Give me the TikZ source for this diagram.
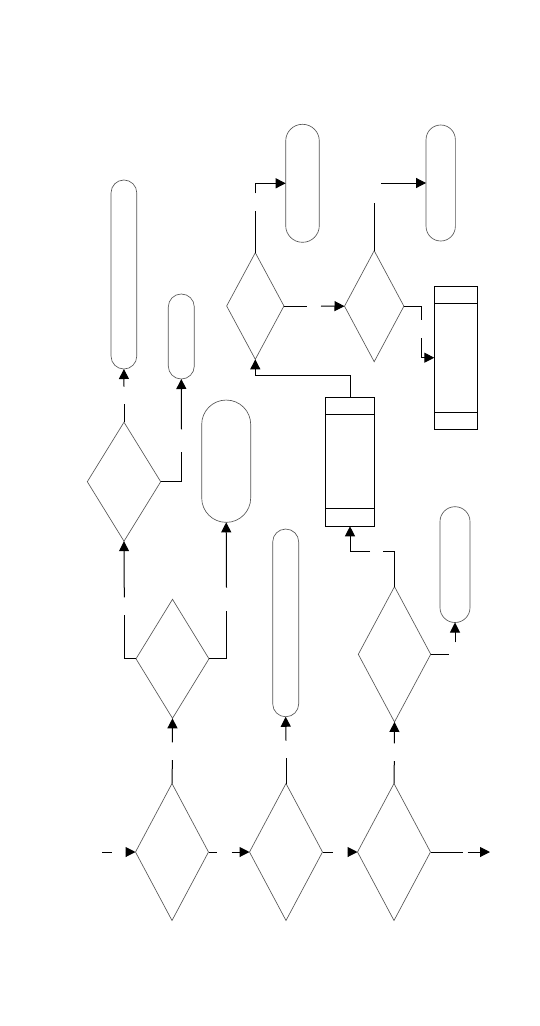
\documentclass[tikz,border=0pt]{standalone}
\usetikzlibrary{shapes.geometric,arrows.meta}
\definecolor{shapegray}{RGB}{85,85,85}
\tikzset{
  dia/.style={diamond, draw=shapegray, line width=0.65pt, inner sep=0pt, outer sep=0pt},
  term/.style={rectangle, draw=shapegray, line width=0.65pt, inner sep=0pt, outer sep=0pt},
  proc/.style={rectangle, draw=black, line width=1pt, inner sep=0pt, outer sep=0pt},
  procline/.style={draw=black, line width=1pt},
  conn/.style={draw=black, line width=1pt},
  arr/.style={conn, -{Triangle[length=10pt,width=10pt]}}
}
\begin{document}
\begin{tikzpicture}[x=1pt,y=-1pt]
\useasboundingbox[fill=white] (0,0) rectangle (540,1026);
% diamonds
\node[dia, minimum width=73pt, minimum height=137pt] (d1) at (172,852) {};
\node[dia, minimum width=73pt, minimum height=137pt] (d2) at (286,852) {};
\node[dia, minimum width=73pt, minimum height=137pt] (d3) at (394,852) {};
\node[dia, minimum width=73pt, minimum height=119pt] (d4) at (172.5,658.8) {};
\node[dia, minimum width=73.4pt, minimum height=119pt] (d5) at (124,481.7) {};
\node[dia, minimum width=72.4pt, minimum height=135.3pt] (d6) at (394.5,654.3) {};
\node[dia, minimum width=57.3pt, minimum height=106.6pt] (d7) at (255.3,306) {};
\node[dia, minimum width=59.4pt, minimum height=111pt] (d8) at (374.2,306.2) {};
% terminals
\node[term, minimum width=25.7pt, minimum height=189pt, rounded corners=12.8pt] (t1) at (123.9,274.5) {};
\node[term, minimum width=26pt, minimum height=85pt, rounded corners=12.9pt] (t2) at (181.3,336.5) {};
\node[term, minimum width=49pt, minimum height=122.3pt, rounded corners=24.4pt] (t3) at (226.2,461.2) {};
\node[term, minimum width=26pt, minimum height=187.7pt, rounded corners=12.9pt] (t4) at (285.7,622.9) {};
\node[term, minimum width=30pt, minimum height=115.8pt, rounded corners=14.9pt] (t5) at (455,564.6) {};
\node[term, minimum width=33.6pt, minimum height=118pt, rounded corners=16.7pt] (t6) at (302.5,183.3) {};
\node[term, minimum width=29.3pt, minimum height=116pt, rounded corners=14.6pt] (t7) at (440.7,183) {};
% processes
\node[proc, minimum width=49.4pt, minimum height=129pt] (p1) at (350,461.8) {};
\draw[procline] ([yshift=-17pt]p1.north west) -- ([yshift=-17pt]p1.north east);
\draw[procline] ([yshift=18pt]p1.south west) -- ([yshift=18pt]p1.south east);
\node[proc, minimum width=43.4pt, minimum height=143.3pt] (p2) at (456,357.7) {};
\draw[procline] ([yshift=-17pt]p2.north west) -- ([yshift=-17pt]p2.north east);
\draw[procline] ([yshift=17pt]p2.south west) -- ([yshift=17pt]p2.south east);
% bottom row connectors
\coordinate (in0) at (102,852);
\coordinate (in1) at (112,852);
\coordinate (in2) at (125.5,852);
\draw[conn] (in0) -- (in1);
\draw[arr] (in2) -- (d1.west);
\coordinate (a1) at (216.7,852);
\coordinate (a2) at (231.7,852);
\draw[conn] (d1.east) -- (a1);
\draw[arr] (a2) -- (d2.west);
\coordinate (b1) at (333.3,852);
\coordinate (b2) at (347.5,852);
\draw[conn] (d2.east) -- (b1);
\draw[arr] (b2) -- (d3.west);
\coordinate (o1) at (463.3,852);
\coordinate (o2) at (467.7,852);
\coordinate (o3) at (490,852);
\draw[conn] (d3.east) -- (o1);
\draw[arr] (o2) -- (o3);
% vertical from bottom row
\coordinate (e1) at (172.4,760);
\coordinate (e2) at (172.4,742.3);
\draw[conn] (d1.north) -- (e1);
\draw[arr] (e2) -- (d4.south);
\coordinate (f1) at (286,757.7);
\coordinate (f2) at (286,740.7);
\draw[conn] (d2.north) -- (f1);
\draw[arr] (f2) -- (t4.south);
\coordinate (g1) at (394.3,761);
\coordinate (g2) at (394.3,743.3);
\draw[conn] (d3.north) -- (g1);
\draw[arr] (g2) -- (d6.south);
% d4 branches
\coordinate (h1) at (124.3,615);
\coordinate (h2) at (124.3,597.3);
\draw[conn] (d4.west) -| (h1);
\draw[arr] (h2) -- (d5.south);
\coordinate (i1) at (226.5,611);
\coordinate (i2) at (226.5,587.7);
\draw[conn] (d4.east) -| (i1);
\draw[arr] (i2) -- (t3.south);
% d5 branches
\coordinate (j1) at (124,404);
\coordinate (j2) at (124,386.7);
\draw[conn] (d5.north) -- (j1);
\draw[arr] (j2) -- (t1.south);
\coordinate (k1) at (181.5,451.7);
\coordinate (k2) at (181.5,429.3);
\draw[conn] (d5.east) -| (k1);
\draw[arr] (k2) -- (t2.south);
% d6 branches
\coordinate (l1) at (383.3,551.7);
\coordinate (l2) at (370,551.7);
\draw[conn] (d6.north) |- (l1);
\draw[arr] (l2) -| (p1.south);
\coordinate (m1) at (449,654.3);
\coordinate (m2) at (455,642.3);
\draw[conn] (d6.east) -- (m1);
\draw[arr] (m2) -- (t5.south);
% p1 -> d7
\coordinate (n1) at (255.3,375.7);
\draw[arr] (p1.north) |- (n1) -- (d7.south);
% d7 -> d8
\coordinate (q1) at (307.3,306);
\coordinate (q2) at (321,306);
\draw[conn] (d7.east) -- (q1);
\draw[arr] (q2) -- (d8.west);
% d8 -> p2
\coordinate (r1) at (421.3,320.3);
\coordinate (r2) at (421.3,338.3);
\draw[conn] (d8.east) -| (r1);
\draw[arr] (r2) |- (p2.west);
% d7 -> t6
\coordinate (s1) at (255.3,210.7);
\coordinate (s2) at (255.3,193.3);
\draw[conn] (d7.north) -- (s1);
\draw[arr] (s2) |- (t6.west);
% d8 -> t7
\coordinate (u1) at (374.2,202.7);
\coordinate (u2) at (381,183);
\draw[conn] (d8.north) -- (u1);
\draw[arr] (u2) -- (t7.west);
\end{tikzpicture}
\end{document}
